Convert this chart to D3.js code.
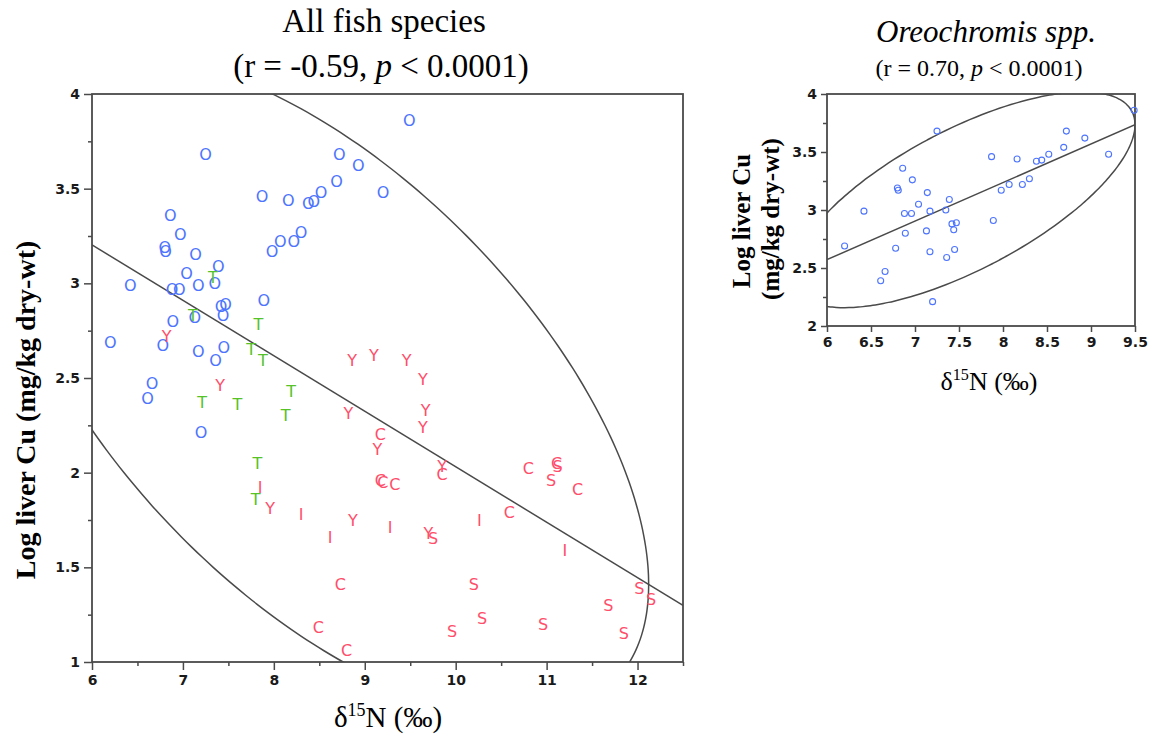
<!DOCTYPE html>
<html>
<head>
<meta charset="utf-8">
<script src="https://cdn.jsdelivr.net/npm/d3@7"></script>
<style>
  html, body { margin: 0; padding: 0; background: #fff; }
  svg { display: block; }
  .tick text { font-family: "DejaVu Sans", Verdana, sans-serif; font-weight: bold; font-size: 14px; fill: #1a1a1a; }
  .serif { font-family: "Liberation Serif", "Times New Roman", serif; fill: #000; }
</style>
</head>
<body>
<svg id="chart" width="1160" height="736"></svg>
<script>
// ---- data ----
// Oreochromis spp. (letter O, also drawn alone in the right panel)
const pointsO = [
  [6.20,2.69],[6.42,2.99],[6.61,2.39],[6.66,2.47],[6.78,2.67],[6.80,3.19],[6.81,3.17],
  [6.86,3.36],[6.88,2.97],[6.89,2.80],[6.96,2.97],[6.97,3.26],[7.04,3.05],[7.13,2.82],
  [7.14,3.15],[7.17,2.99],[7.17,2.64],[7.20,2.21],[7.25,3.68],[7.35,3.00],[7.36,2.59],
  [7.39,3.09],[7.42,2.88],[7.44,2.83],[7.47,2.89],[7.45,2.66],[7.87,3.46],[7.89,2.91],
  [7.98,3.17],[8.07,3.22],[8.16,3.44],[8.22,3.22],[8.30,3.27],[8.38,3.42],[8.44,3.43],
  [8.52,3.48],[8.69,3.54],[8.72,3.68],[8.93,3.62],[9.20,3.48],[9.49,3.86]
];
const pointsT = [
  [7.11,2.83],[7.33,3.03],[7.83,2.78],[7.75,2.65],[7.88,2.59],[8.19,2.43],
  [7.21,2.37],[7.60,2.36],[8.13,2.30],[7.82,2.05],[7.80,1.86]
];
const pointsY = [
  [6.82,2.72],[7.41,2.46],[7.96,1.81],[8.86,2.59],[9.10,2.62],[9.46,2.59],[9.64,2.49],
  [8.82,2.31],[9.67,2.33],[9.64,2.24],[9.14,2.12],[9.85,2.03],[8.87,1.75],[9.70,1.68]
];
const pointsI = [
  [7.85,1.92],[8.30,1.78],[8.62,1.66],[9.28,1.71],[10.26,1.75],[11.20,1.59]
];
const pointsC = [
  [9.17,2.20],[9.17,1.96],[9.20,1.95],[9.33,1.94],[9.85,1.99],[10.80,2.02],
  [11.11,2.05],[11.34,1.91],[10.59,1.79],[8.73,1.41],[8.49,1.18],[8.80,1.06]
];
const pointsS = [
  [9.75,1.65],[11.12,2.03],[11.05,1.96],[10.20,1.41],[9.96,1.16],[10.29,1.23],
  [10.96,1.20],[11.68,1.30],[11.85,1.15],[12.02,1.39],[12.15,1.33]
];

const leftXTicks = [6, 7, 8, 9, 10, 11, 12];
const leftXMinor = [6.5, 7.5, 8.5, 9.5, 10.5, 11.5, 12.5];
const leftYTicks = [1, 1.5, 2, 2.5, 3, 3.5, 4];
const leftYMinor = [1.25, 1.75, 2.25, 2.75, 3.25, 3.75];
const rightXTicks = [6, 6.5, 7, 7.5, 8, 8.5, 9, 9.5];
const rightYTicks = [2, 2.5, 3, 3.5, 4];
const rightYMinor = [2.25, 2.75, 3.25, 3.75];

const ellipseLevel = 5.991; // chi-square 2 df, 95 % density ellipse

const BLUE = "#4d74ff", GREEN = "#55c228", RED = "#ff4d6a", LINE = "#4a4a4a";

const svg = d3.select("#chart");

// stats helpers
function stats(pts) {
  const n = pts.length;
  const mx = d3.mean(pts, d => d[0]), my = d3.mean(pts, d => d[1]);
  let sxx = 0, syy = 0, sxy = 0;
  pts.forEach(([x, y]) => { sxx += (x - mx) ** 2; syy += (y - my) ** 2; sxy += (x - mx) * (y - my); });
  return { mx, my, sxx: sxx / (n - 1), syy: syy / (n - 1), sxy: sxy / (n - 1) };
}

function ellipse(pts) {
  const s = stats(pts);
  const k = Math.sqrt(ellipseLevel);
  const l11 = Math.sqrt(s.sxx), l21 = s.sxy / l11, l22 = Math.sqrt(s.syy - l21 * l21);
  return d3.range(0, 361, 2).map(a => {
    const t = a * Math.PI / 180, u = Math.cos(t), v = Math.sin(t);
    return [s.mx + k * l11 * u, s.my + k * (l21 * u + l22 * v)];
  });
}

function panel(cfg) {
  const x = d3.scaleLinear().domain(cfg.xDomain).range(cfg.xRange);
  const y = d3.scaleLinear().domain(cfg.yDomain).range(cfg.yRange);
  const g = svg.append("g");

  const clipId = "clip-" + cfg.id;
  g.append("clipPath").attr("id", clipId).append("rect")
    .attr("x", cfg.xRange[0]).attr("y", cfg.yRange[1])
    .attr("width", cfg.xRange[1] - cfg.xRange[0])
    .attr("height", cfg.yRange[0] - cfg.yRange[1]);

  // axes
  g.append("g").attr("transform", `translate(0,${cfg.yRange[0]})`)
    .call(d3.axisBottom(x).tickValues(cfg.xTicks).tickSize(cfg.tick).tickPadding(5).tickFormat(d => d));
  g.append("g").attr("transform", `translate(${cfg.xRange[0]},0)`)
    .call(d3.axisLeft(y).tickValues(cfg.yTicks).tickSize(cfg.tick).tickPadding(4).tickFormat(d => d));
  if (cfg.xMinor) {
    g.append("g").attr("transform", `translate(0,${cfg.yRange[0]})`)
      .call(d3.axisBottom(x).tickValues(cfg.xMinor).tickSize(4).tickFormat(""));
  }
  if (cfg.yMinor) {
    g.append("g").attr("transform", `translate(${cfg.xRange[0]},0)`)
      .call(d3.axisLeft(y).tickValues(cfg.yMinor).tickSize(4).tickFormat(""));
  }
  g.selectAll(".domain").remove();
  g.selectAll(".tick line").attr("stroke", LINE).attr("stroke-width", 1.5);

  // frame
  g.append("rect")
    .attr("x", cfg.xRange[0]).attr("y", cfg.yRange[1])
    .attr("width", cfg.xRange[1] - cfg.xRange[0])
    .attr("height", cfg.yRange[0] - cfg.yRange[1])
    .attr("fill", "none").attr("stroke", LINE).attr("stroke-width", 1.8);

  // fit line and density ellipse
  const s = stats(cfg.fitPoints);
  const b = s.sxy / s.sxx, a = s.my - b * s.mx;
  const line = d3.line().x(d => x(d[0])).y(d => y(d[1]));
  const inner = g.append("g").attr("clip-path", `url(#${clipId})`);
  inner.append("path")
    .datum(cfg.xDomain.map(v => [v, a + b * v]))
    .attr("d", line).attr("fill", "none").attr("stroke", LINE).attr("stroke-width", 1.5);
  inner.append("path")
    .datum(ellipse(cfg.fitPoints))
    .attr("d", line.curve(d3.curveCardinalClosed)).attr("fill", "none")
    .attr("stroke", LINE).attr("stroke-width", 1.5);

  return { g, x, y, inner };
}

// ---------- left panel ----------
const allPoints = [].concat(pointsO, pointsT, pointsY, pointsI, pointsC, pointsS);
const L = panel({
  id: "left", xDomain: [6, 12.5], yDomain: [1, 4],
  xRange: [92, 683], yRange: [662, 94],
  xTicks: leftXTicks, xMinor: leftXMinor, yTicks: leftYTicks, yMinor: leftYMinor,
  tick: 8, fitPoints: allPoints
});

const letterGroups = [
  { pts: pointsO, letter: "O", color: BLUE },
  { pts: pointsT, letter: "T", color: GREEN },
  { pts: pointsY, letter: "Y", color: RED },
  { pts: pointsI, letter: "I", color: RED },
  { pts: pointsC, letter: "C", color: RED },
  { pts: pointsS, letter: "S", color: RED }
];
letterGroups.forEach(grp => {
  L.g.append("g").selectAll("text").data(grp.pts).join("text")
    .attr("x", d => L.x(d[0])).attr("y", d => L.y(d[1]))
    .attr("text-anchor", "middle").attr("dominant-baseline", "central")
    .attr("font-family", "'DejaVu Sans', Verdana, sans-serif").attr("font-size", 16)
    .attr("fill", grp.color).text(grp.letter);
});

// ---------- right panel ----------
const R = panel({
  id: "right", xDomain: [6, 9.5], yDomain: [2, 4],
  xRange: [827, 1135], yRange: [326, 94],
  xTicks: rightXTicks, yTicks: rightYTicks, yMinor: rightYMinor,
  tick: 6, fitPoints: pointsO
});
R.g.append("g").selectAll("circle").data(pointsO).join("circle")
  .attr("cx", d => R.x(d[0])).attr("cy", d => R.y(d[1])).attr("r", 3)
  .attr("fill", "none").attr("stroke", BLUE).attr("stroke-width", 1.1);

// ---------- text ----------
function title2(x, y, size, rText) {
  const t = svg.append("text").attr("class", "serif").attr("x", x).attr("y", y)
    .attr("text-anchor", "middle").attr("font-size", size);
  t.append("tspan").text(rText);
  t.append("tspan").attr("font-style", "italic").text("p");
  t.append("tspan").text(" < 0.0001)");
  return t;
}
function deltaLabel(x, y, size) {
  const t = svg.append("text").attr("class", "serif").attr("x", x).attr("y", y)
    .attr("text-anchor", "middle").attr("font-size", size);
  t.append("tspan").text("δ");
  t.append("tspan").attr("font-size", size * 0.62).attr("dy", -size * 0.38).text("15");
  t.append("tspan").attr("dy", size * 0.38).text("N (‰)");
}

svg.append("text").attr("class", "serif").attr("x", 384).attr("y", 32)
  .attr("text-anchor", "middle").attr("font-size", 33).text("All fish species");
title2(381, 77, 33, "(r = -0.59, ");

svg.append("text").attr("class", "serif").attr("x", 986).attr("y", 42)
  .attr("text-anchor", "middle").attr("font-size", 31).attr("font-style", "italic")
  .text("Oreochromis spp.");
title2(979, 76, 24, "(r = 0.70, ");

deltaLabel(388, 727, 29);
deltaLabel(989, 390, 26);

svg.append("text").attr("class", "serif")
  .attr("transform", "translate(35,410) rotate(-90)")
  .attr("text-anchor", "middle").attr("font-size", 28).attr("font-weight", "bold")
  .text("Log liver Cu (mg/kg dry-wt)");

svg.append("text").attr("class", "serif")
  .attr("transform", "translate(750,221) rotate(-90)")
  .attr("text-anchor", "middle").attr("font-size", 25).attr("font-weight", "bold")
  .text("Log liver Cu");
svg.append("text").attr("class", "serif")
  .attr("transform", "translate(779,219) rotate(-90)")
  .attr("text-anchor", "middle").attr("font-size", 25).attr("font-weight", "bold")
  .text("(mg/kg dry-wt)");
</script>
</body>
</html>
